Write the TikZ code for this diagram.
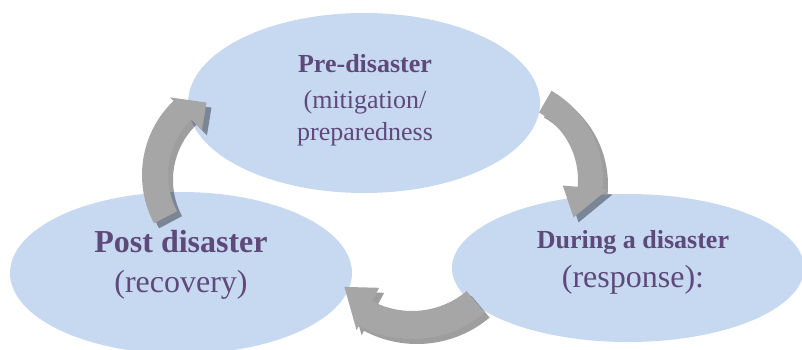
\documentclass[tikz,border=0pt]{standalone}
\usepackage{fontspec}
\setmainfont{Liberation Serif}
\usetikzlibrary{shapes.geometric}

\definecolor{phasefill}{HTML}{C6D9F1}
\definecolor{phaseink}{HTML}{5F497A}
\definecolor{arrowgray}{HTML}{A6A6A6}

\tikzset{
  phase/.style={ellipse, fill=phasefill, draw=none, inner sep=0pt},
  phasetext/.style={anchor=base, text=phaseink, inner sep=0pt,
    font=\fontsize{13}{16}\selectfont},
  phasetitle/.style={phasetext, font=\fontsize{13}{16}\selectfont\bfseries},
  bigtext/.style={phasetext, font=\fontsize{16}{19}\selectfont},
  bigtitle/.style={phasetext, font=\fontsize{16}{19}\selectfont\bfseries},
  arrowbody/.style={fill=arrowgray},
  arrowshadow/.style={fill=black, fill opacity=0.38, shift={(5,-5)}}
}

% curved block arrow: centre x, centre y, inner r, outer r, start, end, tip angle
\newcommand{\cyclearrow}[7]{%
  ([shift={(#1,#2)}]#5:#4) arc[start angle=#5, end angle=#6, radius=#4]
  -- ([shift={(#1,#2)}]#6:#4+5)
  -- ([shift={(#1,#2)}]#7:{(#3+#4)/2-8})
  -- ([shift={(#1,#2)}]#6:#3-15)
  -- ([shift={(#1,#2)}]#6:#3)
  arc[start angle=#6, end angle=#5, radius=#3] -- cycle}

\begin{document}
\begin{tikzpicture}[x=0.5pt,y=0.5pt]
  \useasboundingbox (0,0) rectangle (802,349);
  \node[phase, minimum width=176pt, minimum height=90pt] (pre) at (364,246) {};
  \node[phase, minimum width=171pt, minimum height=81pt] (post) at (181,76) {};
  \node[phase, minimum width=176pt, minimum height=74pt] (during) at (628,81) {};

  \fill[arrowshadow] \cyclearrow{500}{169}{78}{103}{60}{-5}{-27};
  \fill[arrowbody]   \cyclearrow{500}{169}{78}{103}{60}{-5}{-27};
  \fill[arrowshadow] \cyclearrow{412}{123}{85}{113}{-50}{-118}{-138};
  \fill[arrowbody]   \cyclearrow{412}{123}{85}{113}{-50}{-118}{-138};
  \fill[arrowshadow] \cyclearrow{245}{174}{77}{103}{208}{134}{118};
  \fill[arrowbody]   \cyclearrow{245}{174}{77}{103}{208}{134}{118};

  \node[phasetitle] (pretitle) at (365,277) {Pre-disaster};
  \node[phasetext] (prenote) at (365,241) {(mitigation/};
  \node[phasetext] (prenotetwo) at (365,209) {preparedness};
  \node[bigtitle] (posttitle) at (181,97) {Post disaster};
  \node[bigtext] (postnote) at (181,57) {(recovery)};
  \node[phasetitle] (duringtitle) at (633,101) {During a disaster};
  \node[bigtext] (duringnote) at (633,62) {(response):};
\end{tikzpicture}
\end{document}
